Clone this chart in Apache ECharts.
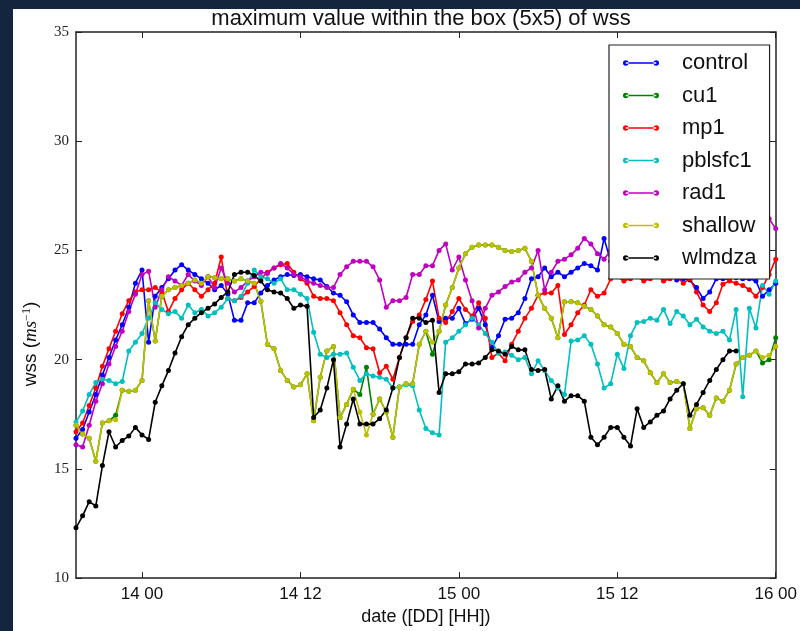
<!DOCTYPE html>
<html>
<head>
<meta charset="utf-8">
<script src="https://cdn.jsdelivr.net/npm/echarts@6/dist/echarts.min.js"></script>
<style>
  html, body { margin: 0; padding: 0; background: #13263d; width: 800px; height: 631px; overflow: hidden; }
  #chart { position: absolute; left: 13px; top: 9px; width: 787px; height: 622px; background: #ffffff; }
</style>
</head>
<body>
<div id="chart"></div>
<script>
// Time axis: hours counted from day 13 00:00, one sample every half hour from 13 19:00
const startHour = 19;
const stepHours = 0.5;
const tickHours = [24, 36, 48, 60, 72];
const tickLabels = ['14 00', '14 12', '15 00', '15 12', '16 00'];

const seriesNames = ['control', 'cu1', 'mp1', 'pblsfc1', 'rad1', 'shallow', 'wlmdza'];
const seriesColors = ['#0000ff', '#008000', '#ff0000', '#00bfbf', '#bf00bf', '#bfbf00', '#000000'];

// maximum wss (m/s) in the 5x5 box, per experiment
const control = [
  16.4, 16.8, 17.6, 18.4, 19.3, 20.1, 20.9, 21.6, 22.4, 23.5, 24.1,
  20.8, 22.9, 23.3, 23.7, 24.1, 24.35, 24.1, 23.9, 23.7, 23.5,
  23.2, 23.4, 23.0, 21.8, 21.8, 22.6, 22.6, 23.05, 23.4, 23.65,
  23.8, 23.9, 23.85, 23.9, 23.8, 23.7, 23.65, 23.35, 23.05, 22.95,
  22.65, 22.05, 21.7, 21.7, 21.7, 21.4, 21.0, 20.7, 20.7, 20.7,
  20.7, 21.6, 22.05, 22.95, 21.75, 21.9, 21.9, 22.35, 21.65, 21.85,
  22.35, 21.6, 20.55, 21.1, 21.85, 21.9, 22.15, 22.8, 23.7, 23.8,
  24.2, 23.8, 24.0, 23.8, 24.0, 24.2, 24.4, 24.3, 24.1, 25.55,
  24.5, 24.3, 24.6, 24.4, 24.2, 24.5, 24.3, 24.1, 24.2, 23.9,
  23.65, 23.7, 23.65, 23.3, 22.8, 23.1, 23.7, 23.7, 23.7, 23.75,
  23.7, 23.7, 23.6, 22.9, 23.2, 23.5
];
const cu1 = [
  17.0, 16.6, 16.4, 15.35, 17.1, 17.2, 17.45, 18.6, 18.55, 18.6, 19.05,
  22.7, 20.85, 22.9, 23.2, 23.3, 23.4, 23.5, 23.65, 23.5, 23.8,
  23.75, 23.7, 23.7, 23.6, 23.7, 23.6, 23.5, 22.67, 20.7, 20.5,
  19.5, 19.05, 18.75, 18.85, 19.35, 17.2, 19.2, 20.4, 20.6, 17.35,
  17.95, 18.65, 18.4, 19.65, 17.5, 18.2, 17.6, 16.45, 18.75, 18.9,
  18.9, 20.7, 21.3, 20.25, 21.3, 22.5, 23.3, 24.2, 24.85, 25.15,
  25.25, 25.25, 25.25, 25.15, 25.0, 24.95, 25.0, 25.1, 24.5, 22.95,
  22.35, 21.9, 21.0, 22.65, 22.65, 22.6, 22.45, 22.3, 22.0, 21.6,
  21.5, 21.2, 20.7, 20.6, 20.1, 19.95, 19.4, 18.95, 19.35, 18.95,
  19.0, 18.9, 16.85, 17.75, 17.8, 17.45, 18.25, 18.1, 18.6, 19.8,
  20.1, 20.2, 20.4, 19.85, 20.0, 21.0
];
const mp1 = [
  16.7, 17.1, 17.9, 18.7, 19.7, 20.5, 21.3, 22.1, 22.7, 23.1, 23.2,
  23.2, 23.3, 23.1, 22.2, 22.8, 23.2, 23.5, 23.2, 22.9, 23.2,
  23.5, 24.7, 22.8, 22.7, 22.85, 23.1, 23.35, 23.7, 24.0, 24.2,
  24.35, 24.4, 24.0, 23.7, 23.5, 22.9, 22.8, 22.8, 22.7, 22.15,
  21.6, 21.1, 21.0, 20.55, 20.5, 19.4, 19.7, 19.1, 20.1, 21.0,
  21.75, 22.05, 22.75, 23.6, 21.9, 21.7, 22.2, 22.8, 22.3, 22.0,
  22.6, 21.9, 20.1, 20.3, 19.95, 20.7, 21.3, 21.9, 22.35, 22.95,
  23.05, 23.05, 23.4, 21.15, 21.6, 22.15, 22.5, 23.2, 22.9, 23.05,
  23.7, 23.8, 23.6, 23.7, 23.8, 23.6, 23.7, 23.9, 23.6, 23.7,
  23.8, 23.5, 23.7, 23.1, 22.5, 22.2, 22.6, 23.45, 23.6, 23.5,
  23.4, 23.2, 22.9, 23.3, 23.9, 24.6
];
const pblsfc1 = [
  17.15, 17.65, 18.4, 18.95, 19.1, 19.05, 18.9, 19.0, 20.4, 20.8, 21.2,
  21.9, 22.6, 22.3, 22.1, 22.2, 21.9, 22.5, 22.15, 22.3, 22.0,
  22.15, 22.4, 22.8, 22.7, 22.9, 23.5, 24.1, 23.8, 23.7, 23.5,
  23.7, 23.2, 23.2, 23.0, 22.8, 21.25, 20.25, 20.1, 20.25, 20.25,
  20.3, 19.65, 19.05, 19.35, 19.25, 19.2, 19.1, 18.7, 18.75, 18.85,
  18.8, 17.7, 16.85, 16.65, 16.55, 20.8, 21.0, 21.3, 21.6, 21.9,
  21.6, 21.2, 20.8, 20.3, 20.35, 20.2, 20.0, 20.1, 19.35, 19.95,
  19.5, 19.05, 18.7, 18.4, 20.85, 20.9, 21.1, 20.7, 19.8, 18.7,
  18.9, 20.25, 19.6, 21.1, 21.7, 21.75, 21.9, 21.8, 22.3, 21.65,
  22.2, 22.0, 21.6, 21.85, 21.5, 21.3, 21.2, 21.3, 20.9, 22.3,
  18.3, 22.35, 21.45, 23.4, 23.0, 23.6
];
const rad1 = [
  16.1, 16.0, 17.0, 18.1, 18.9, 19.8, 20.6, 21.3, 22.2, 23.0, 23.9,
  24.05, 22.4, 23.2, 23.8, 23.6, 23.4, 23.9, 23.6, 23.4, 23.8,
  23.3, 24.2, 23.5, 23.1, 23.3, 23.6, 23.8, 24.0, 23.95, 24.2,
  24.4, 24.2, 23.9, 23.8, 23.6, 23.5, 23.4, 23.3, 23.3, 23.9,
  24.25, 24.5, 24.5, 24.5, 24.25, 23.65, 22.4, 22.7, 22.7, 22.85,
  23.9, 23.9, 24.3, 24.3, 25.0, 25.3, 24.1, 24.7, 23.65, 22.7,
  21.45, 22.35, 22.95, 23.1, 23.35, 23.55, 23.65, 24.0, 24.2, 25.0,
  23.2, 24.0, 24.5, 24.6, 24.8, 25.1, 25.55, 25.3, 24.85, 24.6,
  25.0, 25.3, 25.6, 25.4, 25.8, 25.5, 25.2, 25.6, 25.9, 25.7,
  25.4, 25.8, 26.1, 25.9, 25.6, 25.8, 26.0, 25.7, 25.9, 26.2,
  26.0, 26.3, 26.1, 26.4, 26.45, 26.0
];
const shallow = [
  17.0, 16.6, 16.4, 15.35, 17.1, 17.2, 17.25, 18.6, 18.55, 18.6, 19.05,
  22.7, 20.85, 22.9, 23.2, 23.3, 23.4, 23.5, 23.65, 23.5, 23.8,
  23.75, 23.7, 23.7, 23.6, 23.7, 23.6, 23.5, 22.67, 20.7, 20.5,
  19.5, 19.05, 18.75, 18.85, 19.35, 17.2, 19.2, 20.4, 20.6, 17.35,
  17.95, 18.65, 17.6, 16.55, 17.5, 18.2, 17.6, 16.45, 18.75, 18.9,
  18.9, 20.7, 21.3, 20.8, 21.3, 22.5, 23.3, 24.2, 24.85, 25.15,
  25.25, 25.25, 25.25, 25.15, 25.0, 24.95, 25.0, 25.1, 24.5, 22.95,
  22.35, 21.9, 21.0, 22.65, 22.65, 22.6, 22.45, 22.3, 22.0, 21.6,
  21.5, 21.2, 20.7, 20.6, 20.1, 19.95, 19.4, 18.95, 19.35, 18.95,
  19.0, 18.9, 16.85, 17.75, 17.8, 17.45, 18.25, 18.1, 18.6, 19.8,
  20.1, 20.2, 20.4, 20.1, 20.2, 20.6
];
const wlmdza = [
  12.3, 12.85, 13.5, 13.3, 15.15, 16.7, 16.0, 16.3, 16.5, 16.9, 16.55,
  16.35, 18.05, 18.8, 19.5, 20.3, 21.05, 21.6, 21.9, 22.15, 22.35,
  22.55, 22.85, 23.1, 23.9, 24.0, 24.0, 23.85, 23.6, 23.2, 23.1,
  23.05, 22.8, 22.35, 22.5, 22.45, 17.35, 17.7, 18.7, 20.0, 16.0,
  17.05, 18.2, 17.05, 17.05, 17.05, 17.3, 17.7, 18.7, 20.1, 21.0,
  21.9, 21.9, 21.7, 21.8, 18.5, 19.35, 19.35, 19.45, 19.8, 19.8,
  19.85, 20.1, 20.45, 20.4, 20.25, 20.6, 20.45, 20.45, 19.55, 19.5,
  19.55, 18.2, 18.8, 18.1, 18.35, 18.35, 18.1, 16.45, 16.1, 16.45,
  16.9, 16.9, 16.45, 16.05, 17.75, 16.9, 17.15, 17.45, 17.65, 18.2,
  18.6, 18.9, 17.45, 17.95, 18.5, 19.05, 19.55, 20.0, 20.4, 20.4
];
const seriesValues = [control, cu1, mp1, pblsfc1, rad1, shallow, wlmdza];

const sansFont = '"Liberation Sans", Arial, sans-serif';
const serifFont = '"Liberation Serif", "DejaVu Serif", serif';
const frameColor = '#222222';

// legend marker: a short line with a dot at each end
const legendIcon = 'path://M0,2.75a2.75,2.75 0 1,0 5.5,0a2.75,2.75 0 1,0 -5.5,0Z M30.5,2.75a2.75,2.75 0 1,0 5.5,0a2.75,2.75 0 1,0 -5.5,0Z M2.75,2L33.25,2L33.25,3.5L2.75,3.5Z';

function toPairs(values) {
  return values.map((v, i) => [startHour + i * stepHours, v]);
}

const chart = echarts.init(document.getElementById('chart'), null, { renderer: 'canvas' });

const frameAxisCommon = {
  axisLine: { show: true, lineStyle: { color: frameColor, width: 1.5 } },
  splitLine: { show: false }
};

chart.setOption({
  animation: false,
  title: {
    text: 'maximum value within the box (5x5) of wss',
    left: 408,
    top: -1,
    padding: 0,
    textAlign: 'center',
    textStyle: { fontFamily: sansFont, fontSize: 22, fontWeight: 'normal', color: '#111' }
  },
  grid: { left: 61, right: 20, top: 23, bottom: 49 },
  legend: {
    data: seriesNames,
    orient: 'vertical',
    left: 596,
    top: 36,
    icon: legendIcon,
    itemWidth: 36,
    itemHeight: 6,
    itemGap: 10.5,
    padding: [7, 13, 10, 14],
    backgroundColor: '#ffffff',
    borderColor: frameColor,
    borderWidth: 1.2,
    borderRadius: 0,
    formatter: name => '{t|' + name + '}',
    textStyle: {
      rich: { t: { fontFamily: sansFont, fontSize: 22, lineHeight: 22, color: '#111', padding: [0, 0, 0, 18] } }
    }
  },
  xAxis: [
    Object.assign({}, frameAxisCommon, {
      type: 'value',
      min: 19,
      max: 72,
      position: 'bottom',
      name: 'date ([DD] [HH])',
      nameLocation: 'middle',
      nameGap: 29,
      nameTextStyle: { fontFamily: sansFont, fontSize: 18, color: '#111' },
      axisTick: { show: true, inside: true, length: 6, customValues: tickHours, lineStyle: { color: frameColor, width: 1 } },
      axisLabel: {
        show: true,
        customValues: tickHours,
        margin: 8,
        fontFamily: sansFont,
        fontSize: 17,
        color: '#111',
        formatter: v => tickLabels[tickHours.indexOf(v)]
      }
    }),
    Object.assign({}, frameAxisCommon, {
      type: 'value',
      min: 19,
      max: 72,
      position: 'top',
      axisTick: { show: true, inside: true, length: 6, customValues: tickHours, lineStyle: { color: frameColor, width: 1 } },
      axisLabel: { show: false }
    })
  ],
  yAxis: [
    Object.assign({}, frameAxisCommon, {
      type: 'value',
      min: 10,
      max: 35,
      interval: 5,
      position: 'left',
      name: 'wss ({it|ms}{sup|−1})',
      nameLocation: 'middle',
      nameGap: 36,
      nameTextStyle: {
        fontFamily: sansFont, fontSize: 19, color: '#111',
        padding: [0, 78, 0, 0],
        rich: {
          it: { fontFamily: serifFont, fontStyle: 'italic', fontSize: 19, color: '#111' },
          sup: { fontFamily: serifFont, fontSize: 12, color: '#111', verticalAlign: 'top' }
        }
      },
      axisTick: { show: true, inside: true, length: 6, lineStyle: { color: frameColor, width: 1 } },
      axisLabel: { show: true, margin: 7, fontFamily: serifFont, fontSize: 15, color: '#222' }
    }),
    Object.assign({}, frameAxisCommon, {
      type: 'value',
      min: 10,
      max: 35,
      interval: 5,
      position: 'right',
      axisTick: { show: true, inside: true, length: 6, lineStyle: { color: frameColor, width: 1 } },
      axisLabel: { show: false }
    })
  ],
  series: seriesNames.map((name, k) => ({
    name: name,
    type: 'line',
    xAxisIndex: 0,
    yAxisIndex: 0,
    data: toPairs(seriesValues[k]),
    symbol: 'circle',
    symbolSize: 5,
    showSymbol: true,
    showAllSymbol: true,
    color: seriesColors[k],
    lineStyle: { width: 1.6, color: seriesColors[k] },
    itemStyle: { color: seriesColors[k] },
    emphasis: { disabled: true }
  }))
});
</script>
</body>
</html>
